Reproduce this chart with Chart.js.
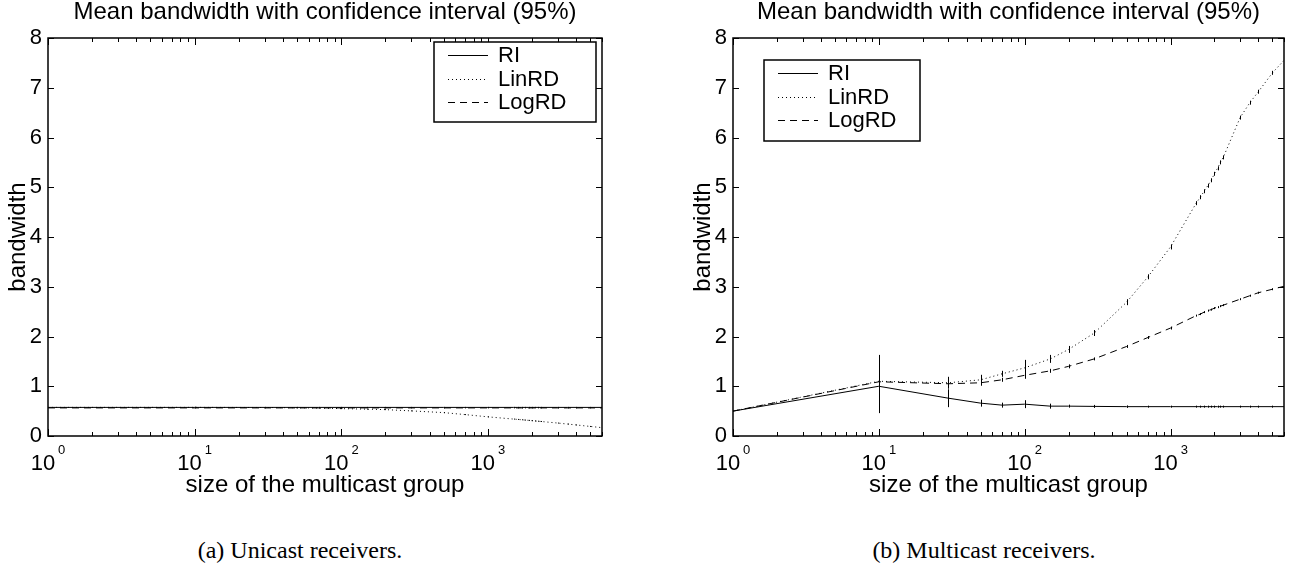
<!DOCTYPE html>
<html>
<head>
<meta charset="utf-8">
<script src="https://cdn.jsdelivr.net/npm/chart.js@4.4.1/dist/chart.umd.min.js"></script>
<style>
  body { margin: 0; background: #fff; width: 1291px; height: 571px; position: relative; overflow: hidden; }
  canvas { position: absolute; top: 0; }
  #unicast { left: 0; }
  #multicast { left: 655px; }
  .caption {
    position: absolute; top: 538px; line-height: 1;
    font-family: "Liberation Serif", "Times New Roman", serif; font-size: 24px;
    transform: translateX(-50%); white-space: nowrap; color: #000;
  }
</style>
</head>
<body>
<canvas id="unicast" width="655" height="500"></canvas>
<canvas id="multicast" width="636" height="500"></canvas>
<div class="caption" style="left:300px">(a) Unicast receivers.</div>
<div class="caption" style="left:984px">(b) Multicast receivers.</div>

<script>
// ---- data -------------------------------------------------------------
const groupSizes = [1, 10, 30, 50, 70, 100, 150, 200, 300, 500, 700, 1000, 1500, 1600, 1700,
                    1800, 1900, 2000, 2100, 2200, 2300, 3000, 3500, 4000, 5000, 6000];

const seriesNames = ["RI", "LinRD", "LogRD"];

// (a) unicast receivers
const uniRI     = [0.575, 0.575, 0.575, 0.575, 0.575, 0.575, 0.575, 0.575, 0.575, 0.575, 0.575, 0.575, 0.575,
                   0.575, 0.575, 0.575, 0.575, 0.575, 0.575, 0.575, 0.575, 0.575, 0.575, 0.575, 0.575, 0.575];
const uniLinRD  = [0.575, 0.575, 0.573, 0.568, 0.562, 0.55, 0.54, 0.53, 0.505, 0.47, 0.43, 0.385, 0.34,
                   0.333, 0.326, 0.32, 0.314, 0.308, 0.302, 0.297, 0.292, 0.26, 0.24, 0.222, 0.192, 0.168];
const uniLogRD  = [0.565, 0.565, 0.565, 0.565, 0.565, 0.565, 0.565, 0.565, 0.565, 0.565, 0.565, 0.565, 0.565,
                   0.565, 0.565, 0.565, 0.565, 0.565, 0.565, 0.565, 0.565, 0.565, 0.565, 0.565, 0.565, 0.565];
const uniRIErr  = [0, 0.012, 0.01, 0.01, 0.01, 0.01, 0.01, 0.01, 0.01, 0.01, 0.01, 0.01, 0.01,
                   0.01, 0.01, 0.01, 0.01, 0.01, 0.01, 0.01, 0.01, 0.01, 0.01, 0.01, 0.01, 0.01];
const uniLinErr = [0, 0.01, 0.01, 0.01, 0.01, 0.01, 0.01, 0.01, 0.01, 0.01, 0.01, 0.01, 0.01,
                   0.01, 0.01, 0.01, 0.01, 0.01, 0.01, 0.01, 0.01, 0.01, 0.01, 0.01, 0.01, 0.01];
const uniLogErr = [0, 0.01, 0.01, 0.01, 0.01, 0.01, 0.01, 0.01, 0.01, 0.01, 0.01, 0.01, 0.01,
                   0.01, 0.01, 0.01, 0.01, 0.01, 0.01, 0.01, 0.01, 0.01, 0.01, 0.01, 0.01, 0.01];

// (b) multicast receivers
const mulRI     = [0.5, 1.0, 0.76, 0.66, 0.62, 0.64, 0.6, 0.6, 0.595, 0.59, 0.59, 0.59, 0.59,
                   0.59, 0.59, 0.59, 0.59, 0.59, 0.59, 0.59, 0.59, 0.59, 0.59, 0.59, 0.59, 0.59];
const mulLinRD  = [0.5, 1.1, 1.07, 1.13, 1.25, 1.37, 1.55, 1.74, 2.07, 2.69, 3.2, 3.8, 4.68,
                   4.8, 4.92, 5.03, 5.14, 5.27, 5.38, 5.5, 5.6, 6.4, 6.7, 6.92, 7.3, 7.55];
const mulLogRD  = [0.5, 1.09, 1.05, 1.07, 1.13, 1.22, 1.31, 1.4, 1.55, 1.8, 1.98, 2.17, 2.42,
                   2.45, 2.49, 2.52, 2.54, 2.57, 2.59, 2.61, 2.63, 2.75, 2.82, 2.88, 2.95, 3.01];
const mulRIErr  = [0, 0.54, 0.18, 0.07, 0.05, 0.08, 0.05, 0.03, 0.03, 0.025, 0.02, 0.02, 0.02,
                   0.02, 0.02, 0.02, 0.02, 0.02, 0.02, 0.02, 0.02, 0.02, 0.02, 0.02, 0.02, 0.02];
const mulLinErr = [0, 0.53, 0.12, 0.1, 0.06, 0.16, 0.08, 0.07, 0.06, 0.06, 0.05, 0.05, 0.04,
                   0.04, 0.04, 0.04, 0.04, 0.04, 0.04, 0.04, 0.04, 0.04, 0.04, 0.04, 0.04, 0.04];
const mulLogErr = [0, 0.3, 0.08, 0.06, 0.04, 0.07, 0.04, 0.04, 0.03, 0.03, 0.03, 0.03, 0.02,
                   0.02, 0.02, 0.02, 0.02, 0.02, 0.02, 0.02, 0.02, 0.02, 0.02, 0.02, 0.02, 0.02];

// axis ticks
const xMin = 1, xMax = 6000;
const decadeValues = [1, 10, 100, 1000];
const decadeExponents = ["0", "1", "2", "3"];
const yTickStep = 1, yMin = 0, yMax = 8;

const TITLE = "Mean bandwidth with confidence interval (95%)";
const FONT = "'Liberation Sans', Arial, Helvetica, sans-serif";
const lineDashes = [[], [1, 3], [7, 5]];

// log-axis tick marks 1..9 per decade
const logTickValues = [];
decadeValues.forEach(d => {
    for (let m = 1; m <= 9; m++) {
        if (m * d <= xMax) logTickValues.push(m * d);
    }
});
logTickValues.push(xMax);

// ---- plugin: matlab-style frame, error bars, exponent labels, legend --
const matlabAxes = {
    id: "matlabAxes",
    afterDatasetsDraw(chart) {
        const { ctx, chartArea: a, scales: { x, y } } = chart;
        ctx.save();
        ctx.beginPath();
        ctx.rect(a.left, a.top, a.width, a.height);
        ctx.clip();
        ctx.strokeStyle = "#000";
        ctx.lineWidth = 1;
        ctx.setLineDash([]);
        chart.data.datasets.forEach(ds => {
            ds.data.forEach((pt, i) => {
                const e = ds.errors[i];
                if (!e) return;
                const px = Math.round(x.getPixelForValue(pt.x)) + 0.5;
                ctx.beginPath();
                ctx.moveTo(px, y.getPixelForValue(pt.y - e));
                ctx.lineTo(px, y.getPixelForValue(pt.y + e));
                ctx.stroke();
            });
        });
        ctx.restore();
    },
    afterDraw(chart, args, opts) {
        const { ctx, chartArea: a, scales: { x, y } } = chart;
        ctx.save();
        ctx.strokeStyle = "#000";
        ctx.fillStyle = "#000";
        ctx.setLineDash([]);

        // inward tick marks on all four sides
        ctx.lineWidth = 1;
        x.ticks.forEach(t => {
            const px = Math.round(x.getPixelForValue(t.value)) + 0.5;
            const len = decadeValues.includes(t.value) ? 7 : 4;
            ctx.beginPath();
            ctx.moveTo(px, a.bottom); ctx.lineTo(px, a.bottom - len);
            ctx.moveTo(px, a.top); ctx.lineTo(px, a.top + len);
            ctx.stroke();
        });
        y.ticks.forEach(t => {
            const py = Math.round(y.getPixelForValue(t.value)) + 0.5;
            ctx.beginPath();
            ctx.moveTo(a.left, py); ctx.lineTo(a.left + 6, py);
            ctx.moveTo(a.right, py); ctx.lineTo(a.right - 6, py);
            ctx.stroke();
        });

        // box
        ctx.lineWidth = 1.5;
        ctx.strokeRect(a.left, a.top, a.width, a.height);

        // 10^n labels
        decadeValues.forEach((v, i) => {
            const px = x.getPixelForValue(v);
            ctx.font = "22px " + FONT;
            const wBase = ctx.measureText("10").width;
            ctx.font = "13px " + FONT;
            const wExp = ctx.measureText(decadeExponents[i]).width;
            const left = px - (wBase + 3 + wExp) / 2;
            ctx.textBaseline = "alphabetic";
            ctx.textAlign = "left";
            ctx.font = "22px " + FONT;
            ctx.fillText("10", left, a.bottom + 34);
            ctx.font = "13px " + FONT;
            ctx.fillText(decadeExponents[i], left + wBase + 3, a.bottom + 18);
        });

        // legend box
        const lg = opts.legend;
        const bx = lg.side === "right" ? a.right - lg.dx - lg.w : a.left + lg.dx;
        const by = a.top + lg.dy;
        ctx.fillStyle = "#fff";
        ctx.fillRect(bx, by, lg.w, lg.h);
        ctx.lineWidth = 1.5;
        ctx.strokeRect(bx, by, lg.w, lg.h);
        ctx.font = "22px " + FONT;
        ctx.textBaseline = "middle";
        ctx.fillStyle = "#000";
        chart.data.datasets.forEach((ds, i) => {
            const ry = Math.round(by + 13 + i * 23.5) + 0.5;
            ctx.lineWidth = 1;
            ctx.setLineDash(ds.borderDash || []);
            ctx.beginPath();
            ctx.moveTo(bx + 14, ry); ctx.lineTo(bx + 54, ry);
            ctx.stroke();
            ctx.setLineDash([]);
            ctx.fillText(ds.label, bx + 64, ry);
        });
        ctx.restore();
    }
};

// ---- chart builder ------------------------------------------------------
function makeDatasets(series, errors) {
    return series.map((vals, i) => ({
        label: seriesNames[i],
        data: groupSizes.map((n, j) => ({ x: n, y: vals[j] })),
        errors: errors[i],
        borderColor: "#000",
        borderWidth: 1,
        borderDash: lineDashes[i],
        pointRadius: 0,
        tension: 0,
        fill: false
    }));
}

function makeChart(id, series, errors, frame) {
    return new Chart(document.getElementById(id), {
        type: "line",
        data: { datasets: makeDatasets(series, errors) },
        options: {
            responsive: false,
            animation: false,
            events: [],
            layout: { padding: { left: 0, top: 0, right: frame.padRight, bottom: 0 } },
            scales: {
                x: {
                    type: "logarithmic",
                    min: xMin, max: xMax,
                    grid: { display: false, drawTicks: false },
                    border: { display: false },
                    ticks: { display: false },
                    afterBuildTicks: s => { s.ticks = logTickValues.map(v => ({ value: v })); },
                    afterFit: s => { s.height = 64; },
                    title: {
                        display: true, text: "size of the multicast group", color: "#000",
                        font: { family: FONT, size: 24, lineHeight: 1 },
                        padding: { top: 0, bottom: 3 }
                    }
                },
                y: {
                    min: yMin, max: yMax,
                    grid: { display: false, drawTicks: false },
                    border: { display: false },
                    ticks: { stepSize: yTickStep, color: "#000", padding: 6, font: { family: FONT, size: 22 } },
                    afterFit: s => { s.width = frame.axisLeft; },
                    title: {
                        display: true, text: "bandwidth", color: "#000",
                        font: { family: FONT, size: 24, lineHeight: 1 },
                        padding: { top: frame.labelPad, bottom: 0 }
                    }
                }
            },
            plugins: {
                legend: { display: false },
                tooltip: { enabled: false },
                title: {
                    display: true, text: TITLE, color: "#000", fullSize: false,
                    font: { family: FONT, size: 24, weight: "normal", lineHeight: 1 },
                    padding: { top: 0, bottom: 14 }
                },
                matlabAxes: { legend: frame.legend }
            }
        },
        plugins: [matlabAxes]
    });
}

window.onload = () => {
    makeChart("unicast", [uniRI, uniLinRD, uniLogRD], [uniRIErr, uniLinErr, uniLogErr], {
        axisLeft: 48, padRight: 53, labelPad: 6,
        legend: { side: "right", dx: 6, dy: 4, w: 162, h: 80 }
    });
    makeChart("multicast", [mulRI, mulLinRD, mulLogRD], [mulRIErr, mulLinErr, mulLogErr], {
        axisLeft: 78, padRight: 7, labelPad: 36,
        legend: { side: "left", dx: 31, dy: 22, w: 156, h: 81 }
    });
};
</script>
</body>
</html>
